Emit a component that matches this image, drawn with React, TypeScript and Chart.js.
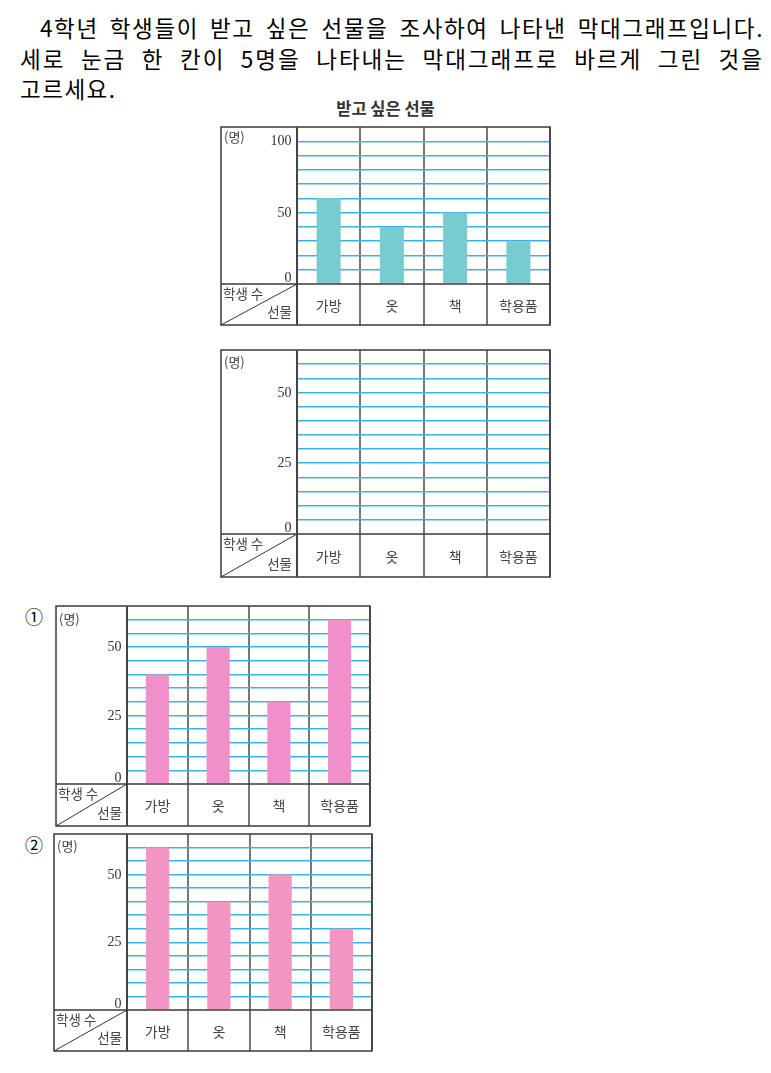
import React, { useEffect, useRef } from 'react';
import { Chart, registerables } from 'chart.js';

Chart.register(...registerables);

// ---- data ----
const categories = ['가방', '옷', '책', '학용품'];
const surveyValues = [60, 40, 50, 30];
const choice1Values = [40, 50, 30, 60];
const choice2Values = [60, 40, 50, 30];
const surveyTickLabels = [0, 50, 100];
const answerTickLabels = [0, 25, 50];
const unitLabel = '(명)';
const headerTop = '학생 수';
const headerBottom = '선물';
const chartTitle = '받고 싶은 선물';
const questionLines = [
  '4학년 학생들이 받고 싶은 선물을 조사하여 나타낸 막대그래프입니다.',
  '세로 눈금 한 칸이 5명을 나타내는 막대그래프로 바르게 그린 것을',
  '고르세요.',
];
const choiceMarks = ['①', '②'];

const KR = '"Noto Sans CJK KR", "Noto Sans", sans-serif';
const PAD = 2;

type Box = { left: number; top: number; right: number; bottom: number; divider: number; axis: number };

function TableChart(props: {
  box: Box;
  yMax: number;
  step: number;
  tickLabels: number[];
  values: number[] | null;
  color: string;
  unitDy: number;
}) {
  const { box, yMax, step, tickLabels, values, color, unitDy } = props;
  const ref = useRef<HTMLCanvasElement>(null);
  const W = box.right - box.left + 2 * PAD;
  const H = box.bottom - box.top + 2 * PAD;

  useEffect(() => {
    const yAxisW = box.divider - box.left;
    const xAxisH = box.bottom - box.axis;
    const framePlugin = {
      id: 'tableFrame',
      afterDraw(chart: any) {
        const ctx = chart.ctx as CanvasRenderingContext2D;
        const xs = chart.scales.x;
        const ys = chart.scales.y;
        const L = PAD;
        const T = PAD;
        const R = chart.width - PAD;
        const B = chart.height - PAD;
        const D = chart.chartArea.left;
        const A = chart.chartArea.bottom;
        const line = (x1: number, y1: number, x2: number, y2: number) => {
          ctx.beginPath();
          ctx.moveTo(x1, y1);
          ctx.lineTo(x2, y2);
          ctx.stroke();
        };
        ctx.save();
        ctx.strokeStyle = '#3a3a3a';
        ctx.lineWidth = 1.5;
        ctx.strokeRect(L, T, R - L, B - T);
        line(L, A, R, A);
        ctx.strokeStyle = '#444';
        ctx.lineWidth = 2;
        line(D, T, D, B);
        ctx.strokeStyle = '#333';
        ctx.lineWidth = 1;
        line(L, B, D, A);

        // unit
        ctx.fillStyle = '#444';
        ctx.font = '13px ' + KR;
        ctx.textAlign = 'left';
        ctx.textBaseline = 'middle';
        ctx.fillText(unitLabel, L + 3, T + unitDy);

        // y tick labels
        ctx.fillStyle = '#333';
        ctx.font = '14px "Liberation Serif", "DejaVu Serif", serif';
        ctx.textAlign = 'right';
        for (const v of tickLabels) {
          const py = ys.getPixelForValue(v);
          if (v === 0) {
            ctx.textBaseline = 'alphabetic';
            ctx.fillText(String(v), D - 5.5, A - 2);
          } else {
            ctx.textBaseline = 'middle';
            ctx.fillText(String(v), D - 5.5, py + 0.5);
          }
        }

        // category labels
        ctx.fillStyle = '#444';
        ctx.font = '14px ' + KR;
        ctx.textAlign = 'center';
        ctx.textBaseline = 'middle';
        categories.forEach((c, i) => {
          ctx.fillText(c, xs.getPixelForValue(i), (A + B) / 2 + 1);
        });

        // header cell
        ctx.font = '13.5px ' + KR;
        ctx.textAlign = 'left';
        ctx.fillText(headerTop, L + 2, A + 9.5);
        ctx.textAlign = 'right';
        ctx.fillText(headerBottom, D - 5, B - 13);
        ctx.restore();
      },
    };

    const chart = new Chart(ref.current as HTMLCanvasElement, {
      type: 'bar',
      data: {
        labels: categories,
        datasets: [
          {
            data: values ? values : [],
            backgroundColor: color,
            borderWidth: 0,
            barPercentage: 0.38,
            categoryPercentage: 1,
          },
        ],
      },
      options: {
        animation: false,
        responsive: false,
        events: [],
        layout: { padding: PAD },
        plugins: {
          legend: { display: false },
          tooltip: { enabled: false },
          title: { display: false },
        },
        scales: {
          x: {
            offset: true,
            grid: {
              offset: true,
              color: '#777',
              lineWidth: 2,
              drawTicks: true,
              tickLength: xAxisH,
              tickColor: '#777',
            },
            ticks: { display: false },
            border: { display: false },
            afterFit(s: any) {
              s.height = xAxisH;
            },
          },
          y: {
            min: 0,
            max: yMax,
            ticks: { display: false, stepSize: step },
            grid: {
              drawTicks: false,
              lineWidth: 1.5,
              color: (c: any) =>
                c.tick && (c.tick.value === 0 || c.tick.value === yMax) ? 'rgba(0,0,0,0)' : '#3cb3e6',
            },
            border: { display: false },
            afterFit(s: any) {
              s.width = yAxisW;
            },
          },
        },
      } as any,
      plugins: [framePlugin],
    });
    return () => chart.destroy();
  }, []);

  return (
    <canvas
      ref={ref}
      width={W}
      height={H}
      style={{ position: 'absolute', left: box.left - PAD, top: box.top - PAD, width: W, height: H }}
    />
  );
}

export default function App() {
  const lineStyle: React.CSSProperties = {
    position: 'absolute',
    fontFamily: KR,
    fontSize: 22.5,
    lineHeight: '30px',
    color: '#000',
    whiteSpace: 'normal',
  };
  return (
    <div style={{ position: 'absolute', left: 0, top: 0, width: 771, height: 1073, background: '#fff', overflow: 'hidden' }}>
      <div
        style={{ ...lineStyle, left: 40, top: 12, width: 724, letterSpacing: 1.6, textAlign: 'justify', textAlignLast: 'justify' }}
      >
        {questionLines[0]}
      </div>
      <div
        style={{ ...lineStyle, left: 20, top: 43, width: 744, letterSpacing: 2, textAlign: 'justify', textAlignLast: 'justify' }}
      >
        {questionLines[1]}
      </div>
      <div style={{ ...lineStyle, left: 20, top: 73, width: 742, letterSpacing: 1.5 }}>{questionLines[2]}</div>

      <div
        style={{
          position: 'absolute',
          left: 221,
          width: 329,
          top: 98,
          textAlign: 'center',
          fontFamily: KR,
          fontSize: 16.5,
          fontWeight: 'bold',
          lineHeight: '20px',
          color: '#333',
        }}
      >
        {chartTitle}
      </div>

      <TableChart
        box={{ left: 221, top: 127, right: 550, bottom: 325, divider: 297, axis: 284 }}
        yMax={110}
        step={10}
        tickLabels={surveyTickLabels}
        values={surveyValues}
        color="#78cccf"
        unitDy={10.5}
      />
      <TableChart
        box={{ left: 221, top: 350, right: 550, bottom: 577, divider: 297, axis: 534 }}
        yMax={65}
        step={5}
        tickLabels={answerTickLabels}
        values={null}
        color="#78cccf"
        unitDy={12.5}
      />

      <div style={{ position: 'absolute', left: 25, top: 606, fontFamily: KR, fontSize: 18, lineHeight: '20px', color: '#000' }}>
        {choiceMarks[0]}
      </div>
      <TableChart
        box={{ left: 56, top: 606, right: 370, bottom: 826, divider: 127, axis: 784 }}
        yMax={65}
        step={5}
        tickLabels={answerTickLabels}
        values={choice1Values}
        color="#f08fca"
        unitDy={13}
      />

      <div style={{ position: 'absolute', left: 25, top: 834, fontFamily: KR, fontSize: 18, lineHeight: '20px', color: '#000' }}>
        {choiceMarks[1]}
      </div>
      <TableChart
        box={{ left: 54, top: 834, right: 372, bottom: 1051, divider: 127, axis: 1010 }}
        yMax={65}
        step={5}
        tickLabels={answerTickLabels}
        values={choice2Values}
        color="#f296c4"
        unitDy={12}
      />
    </div>
  );
}
